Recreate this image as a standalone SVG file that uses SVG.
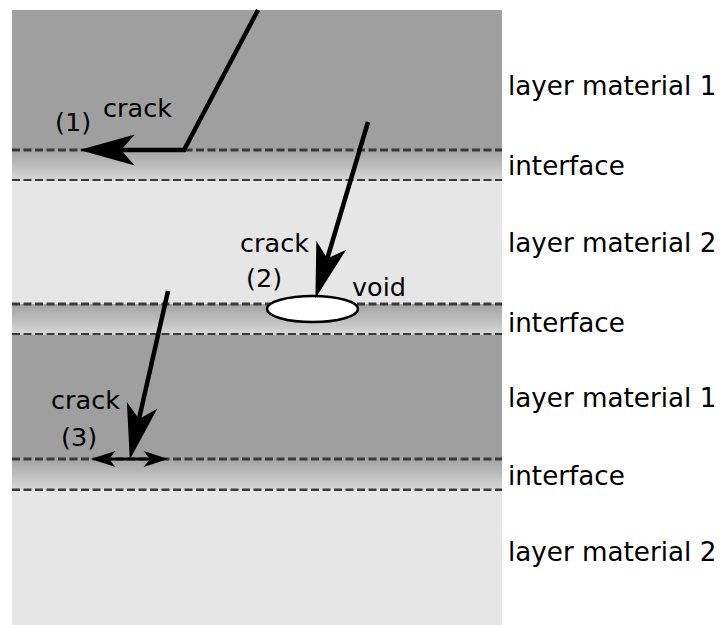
<svg xmlns="http://www.w3.org/2000/svg" width="720" height="625" viewBox="0 0 720 625">
  <defs>
    <linearGradient id="ifaceGrad" x1="0" y1="0" x2="0" y2="1">
      <stop offset="0" stop-color="#a3a3a3"/>
      <stop offset="1" stop-color="#d8d8d8"/>
    </linearGradient>
    <!-- large crack arrowhead, origin at the notch -->
    <marker id="headBig" markerUnits="userSpaceOnUse" markerWidth="60" markerHeight="40" viewBox="-14 -15 52 30" refX="0" refY="0" orient="auto">
      <path d="M36,0 L-12,-13.5 L0,0 L-12,13.5 Z" fill="#000"/>
    </marker>
    <!-- small arrowhead for the interface crack -->
    <marker id="headSmall" markerUnits="userSpaceOnUse" markerWidth="30" markerHeight="20" viewBox="-8 -9 28 18" refX="0" refY="0" orient="auto-start-reverse">
      <path d="M17,0 L-6,-7.5 L0,0 L-6,7.5 Z" fill="#000"/>
    </marker>
  </defs>
  <style>
    .mat1 { fill: #9f9f9f; }
    .mat2 { fill: #e6e6e6; }
    .iface { fill: url(#ifaceGrad); }
    .dash { stroke: #3a3a3a; stroke-width: 3; stroke-dasharray: 8 3.5; fill: none; }
    .crack { stroke: #000; stroke-width: 4.5; fill: none; stroke-linejoin: miter; }
    .label { font-family: "DejaVu Sans", Verdana, sans-serif; font-size: 25.5px; fill: #000; }
    .name { font-size: 26.2px; }
  </style>

  <rect width="720" height="625" fill="#fff"/>

  <!-- material stack -->
  <g id="layer1-top">
    <rect class="mat1" x="12" y="10" width="490" height="140"/>
  </g>
  <g id="interface-1">
    <rect class="iface" x="12" y="150" width="490" height="31"/>
    <line class="dash" x1="12" y1="150" x2="502" y2="150"/>
    <line class="dash" x1="12" y1="180.5" x2="502" y2="180.5"/>
  </g>
  <g id="layer2-top">
    <rect class="mat2" x="12" y="181" width="490" height="123"/>
  </g>
  <g id="interface-2">
    <rect class="iface" x="12" y="304" width="490" height="31"/>
    <line class="dash" x1="12" y1="304" x2="502" y2="304"/>
    <line class="dash" x1="12" y1="334.5" x2="502" y2="334.5"/>
  </g>
  <g id="layer1-mid">
    <rect class="mat1" x="12" y="335" width="490" height="124"/>
  </g>
  <g id="interface-3">
    <rect class="iface" x="12" y="459" width="490" height="31"/>
    <line class="dash" x1="12" y1="459" x2="502" y2="459"/>
    <line class="dash" x1="12" y1="490" x2="502" y2="490"/>
  </g>
  <g id="layer2-bottom">
    <rect class="mat2" x="12" y="491" width="490" height="134"/>
  </g>

  <!-- void at the second interface -->
  <g id="void">
    <ellipse cx="312.5" cy="309" rx="45.5" ry="13" fill="#fff" stroke="#000" stroke-width="2.5"/>
  </g>

  <!-- crack paths -->
  <g id="connectors">
    <path class="crack" d="M258,10 L184,150 L121,150" marker-end="url(#headBig)"/>
    <path class="crack" d="M368,122 L327.3,258.5" marker-end="url(#headBig)"/>
    <path class="crack" d="M168,291 L139,418.9" marker-end="url(#headBig)"/>
    <path d="M109,459 L150,459" stroke="#000" stroke-width="3" fill="none" marker-start="url(#headSmall)" marker-end="url(#headSmall)"/>
  </g>

  <!-- crack labels -->
  <g id="crack1-label">
    <text class="label" x="103" y="117">crack</text>
    <text class="label" x="55" y="131">(1)</text>
  </g>
  <g id="crack2-label">
    <text class="label" x="240" y="252">crack</text>
    <text class="label" x="246" y="287">(2)</text>
    <text class="label" x="352" y="296">void</text>
  </g>
  <g id="crack3-label">
    <text class="label" x="51" y="409">crack</text>
    <text class="label" x="61" y="446">(3)</text>
  </g>

  <!-- layer names -->
  <g id="layer-names">
    <text class="label name" x="508" y="95">layer material 1</text>
    <text class="label name" x="508" y="175">interface</text>
    <text class="label name" x="508" y="252">layer material 2</text>
    <text class="label name" x="508" y="332">interface</text>
    <text class="label name" x="508" y="407">layer material 1</text>
    <text class="label name" x="508" y="485">interface</text>
    <text class="label name" x="508" y="561">layer material 2</text>
  </g>
</svg>
